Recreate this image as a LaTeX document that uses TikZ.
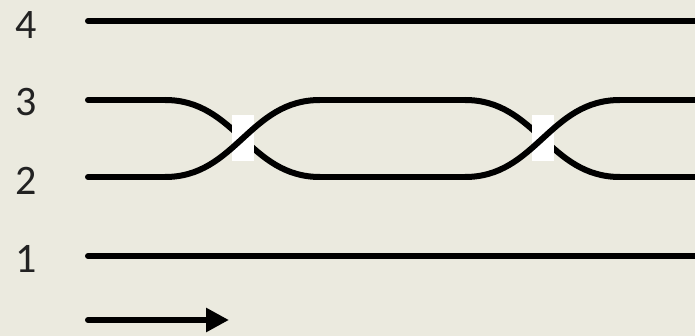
\documentclass[tikz,border=0pt]{standalone}
\usepackage{fontspec}
\setmainfont{Carlito}
\usetikzlibrary{arrows.meta,positioning}
\definecolor{Canvas}{HTML}{EBEADF}
\definecolor{Ink}{HTML}{000000}
\definecolor{Label}{HTML}{222222}
\tikzset{
  strand/.style={line width=6pt, draw=Ink, line cap=round},
  twist/.style={out=0, in=180, looseness=1.05},
  gap/.style={fill=white, minimum width=22pt, minimum height=46pt, inner sep=0pt},
  lab/.style={font=\fontsize{42}{42}\selectfont, text=Label, inner sep=0pt},
  dir/.style={strand, -{Triangle[length=23pt,width=23pt]}}
}

\begin{document}
\begin{tikzpicture}[x=1pt,y=-1pt]
        \fill[Canvas] (0,0) rectangle (695,336);
        \useasboundingbox (0,0) rectangle (695,336);
        % labels
        \node[lab] (l4) at (26,25) {4};
        \node[lab] (l3) at (26,102) {3};
        \node[lab] (l2) at (26,181) {2};
        \node[lab] (l1) at (26,259) {1};
        % end points
        \coordinate (a4) at (88,21);  \coordinate (b4) at (698,21);
        \coordinate (a3) at (88,100); \coordinate (b3) at (698,100);
        \coordinate (a2) at (88,177); \coordinate (b2) at (698,177);
        \coordinate (a1) at (88,256); \coordinate (b1) at (698,256);
        \coordinate (p1) at (165,100); \coordinate (q1) at (165,177);
        \coordinate (p2) at (320,100); \coordinate (q2) at (320,177);
        \coordinate (p3) at (465,100); \coordinate (q3) at (465,177);
        \coordinate (p4) at (620,100); \coordinate (q4) at (620,177);
        \coordinate (t0) at (88,320); \coordinate (t1) at (229,320);
        % straight strands
        \draw[strand] (a4) -- (b4);
        \draw[strand] (a1) -- (b1);
        \draw[strand] (a3) -- (p1);
        \draw[strand] (a2) -- (q1);
        \draw[strand] (p2) -- (p3);
        \draw[strand] (q2) -- (q3);
        \draw[strand] (p4) -- (b3);
        \draw[strand] (q4) -- (b2);
        % under strands
        \draw[strand] (p1) to[twist] (q2);
        \draw[strand] (p3) to[twist] (q4);
        \node[gap] (x1) at (242.5,138.5) {};
        \node[gap] (x2) at (542.5,138.5) {};
        % over strands
        \draw[strand] (q1) to[twist] (p2);
        \draw[strand] (q3) to[twist] (p4);
        \draw[dir] (t0) -- (t1);
      \end{tikzpicture}
\end{document}
